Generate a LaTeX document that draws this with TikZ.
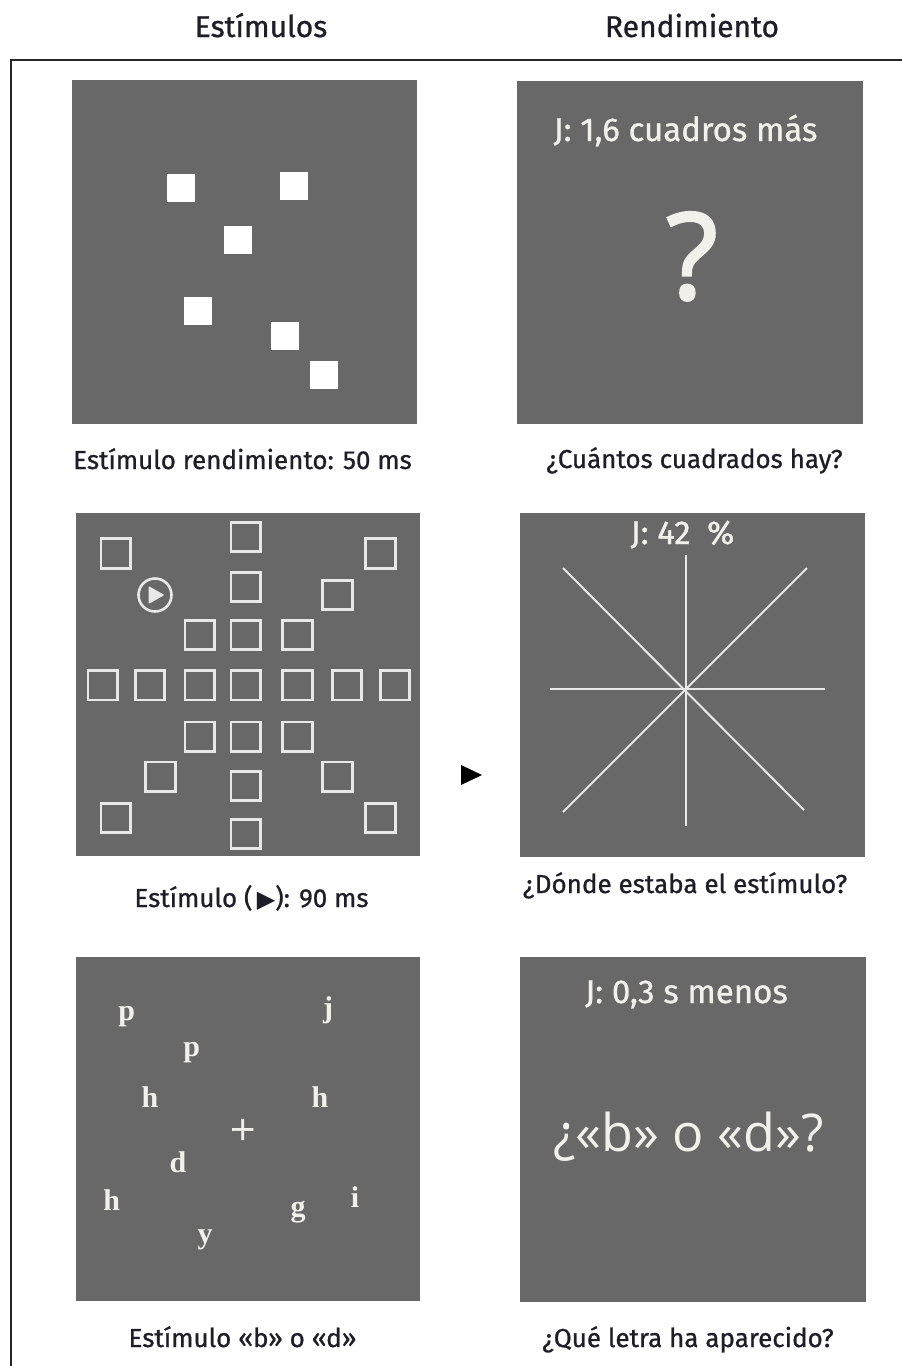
\documentclass[tikz,border=0pt]{standalone}
\usepackage{fontspec}
\setmainfont{Fira Sans}
\newfontfamily\labfont[FakeBold=0.9]{Fira Sans}
\newfontfamily\quesfont{Open Sans}
\newfontfamily\bigqfont[FakeBold=2]{Open Sans}
\newfontfamily\letfont{Liberation Serif}
\newfontfamily\plusfont[FakeBold=1.5]{Liberation Serif}
\newfontfamily\symfont{DejaVu Sans}
\definecolor{panelgray}{RGB}{104,104,104}
\definecolor{captxt}{RGB}{30,30,40}
\definecolor{wtxt}{RGB}{242,240,235}
\definecolor{wline}{RGB}{232,232,232}
\tikzset{
  panelbox/.style={fill=panelgray, draw=none, inner sep=0pt, outer sep=0pt},
  header/.style={font=\labfont\fontsize{30}{36}\selectfont, text=captxt, anchor=base, inner sep=0pt},
  caption/.style={font=\labfont\fontsize{26}{30}\selectfont, text=captxt, anchor=base, inner sep=0pt},
  jlabel/.style={font=\labfont\fontsize{33}{38}\selectfont, text=wtxt, anchor=base, inner sep=0pt},
  letter/.style={font=\letfont\bfseries\fontsize{30}{34}\selectfont, text=wtxt, inner sep=0pt},
  fsq/.style={fill=white, draw=none, minimum size=28pt, inner sep=0pt},
  osq/.style={draw=wline, line width=2.6pt, minimum size=29.5pt, inner sep=0pt},
  star/.style={draw=wline, line width=2pt},
}
\begin{document}
\begin{tikzpicture}[x=1pt,y=-1pt]
\useasboundingbox (0,0) rectangle (902,1366);
% frame
\draw[line width=2pt, color=black!85] (11,1370) -- (11,60) -- (906,60);
% headers
\node[header] (h1) at (261,37) {Estímulos};
\node[header] (h2) at (692,37) {Rendimiento};
% panels
\node[panelbox, minimum width=345pt, minimum height=344pt] (p1) at (244.5,252) {};
\node[panelbox, minimum width=346pt, minimum height=343pt] (p2) at (690,252.5) {};
\node[panelbox, minimum width=344pt, minimum height=343pt] (p3) at (248,684.5) {};
\node[panelbox, minimum width=345pt, minimum height=344pt] (p4) at (692.5,685) {};
\node[panelbox, minimum width=344pt, minimum height=344pt] (p5) at (248,1129) {};
\node[panelbox, minimum width=346pt, minimum height=345pt] (p6) at (693,1129.5) {};
% panel 1 squares
\node[fsq] (s1) at (180.5,188) {};
\node[fsq] (s2) at (294,185.5) {};
\node[fsq] (s3) at (238,239.5) {};
\node[fsq] (s4) at (198,311) {};
\node[fsq] (s5) at (285,335.5) {};
\node[fsq] (s6) at (324,375) {};
% panel 2
\node[jlabel] (j1) at (685.5,141) {J: 1,6 cuadros más};
\node[font=\bigqfont\fontsize{120}{122}\selectfont, text=wtxt, anchor=base, inner sep=0pt] (q1) at (692,299) {?};
% panel 3 outlined squares
\foreach \n/\x/\y in {a/245.8/537, b/115.8/553.5, c/380.5/553.5, d/245.8/587, e/337.5/595,
  f/199.8/635, g/245.8/635, h/297.5/635,
  i/102.8/685.3, j/150/685.3, k/199.8/685.3, l/245.8/685.3, m/297.5/685.3, n/347/685.3, o/395/685.3,
  p/199.8/736.7, q/245.8/736.7, r/297.5/736.7,
  s/160.5/776.7, t/245.8/786, u/337.5/776.7,
  v/115.8/818, w/380.5/818, x/245.8/834}
  \node[osq] (o\n) at (\x,\y) {};
\node[circle, draw=wline, line width=2.6pt, minimum size=33pt, inner sep=0pt] (play) at (155,595) {};
\fill[wline, rounded corners=1pt] (148.5,586) -- (164.5,595) -- (148.5,604) -- cycle;
% arrow between panels
\fill[black] (461,765) -- (482,775) -- (461,785) -- cycle;
% panel 4
\node[jlabel] (j2) at (682.5,544) {J: 42\enspace\%};
\coordinate (c) at (686,689);
\draw[star] (686,555) -- (686,826);
\draw[star] (550,689) -- (825,689);
\draw[star] (563,568) -- (804,810);
\draw[star] (807,568) -- (563,812);
% panel 5 letters
\node[letter] (l1) at (126.7,1017) {p};
\node[letter] (l2) at (328,1010) {j};
\node[letter] (l3) at (191.7,1053) {p};
\node[letter] (l4) at (150,1096.7) {h};
\node[letter] (l5) at (320,1096.7) {h};
\node[font=\plusfont\fontsize{44}{46}\selectfont, text=wtxt, inner sep=0pt] (l6) at (242.7,1131.7) {+};
\node[letter] (l7) at (178,1162.7) {d};
\node[letter] (l8) at (111.7,1200) {h};
\node[letter] (l9) at (355,1196.7) {i};
\node[letter] (l10) at (298,1211.7) {g};
\node[letter] (l11) at (205,1240) {y};
% panel 6
\node[jlabel] (j3) at (686.5,1003) {J: 0,3 s menos};
\node[font=\quesfont\fontsize{52}{56}\selectfont, text=wtxt, anchor=base, inner sep=0pt] (q2) at (688.5,1151) {¿«b» o «d»?};
% captions
\node[caption] (c1) at (242.5,469) {Estímulo rendimiento: 50 ms};
\node[caption] (c2) at (694.5,468) {¿Cuántos cuadrados hay?};
\node[caption] (c3) at (251.5,907) {Estímulo (\,{\symfont\fontsize{24}{26}\selectfont ▶}): 90 ms};
\node[caption] (c4) at (685,893) {¿Dónde estaba el estímulo?};
\node[caption] (c5) at (242.5,1347) {Estímulo «b» o «d»};
\node[caption] (c6) at (688,1347) {¿Qué letra ha aparecido?};
\end{tikzpicture}
\end{document}
